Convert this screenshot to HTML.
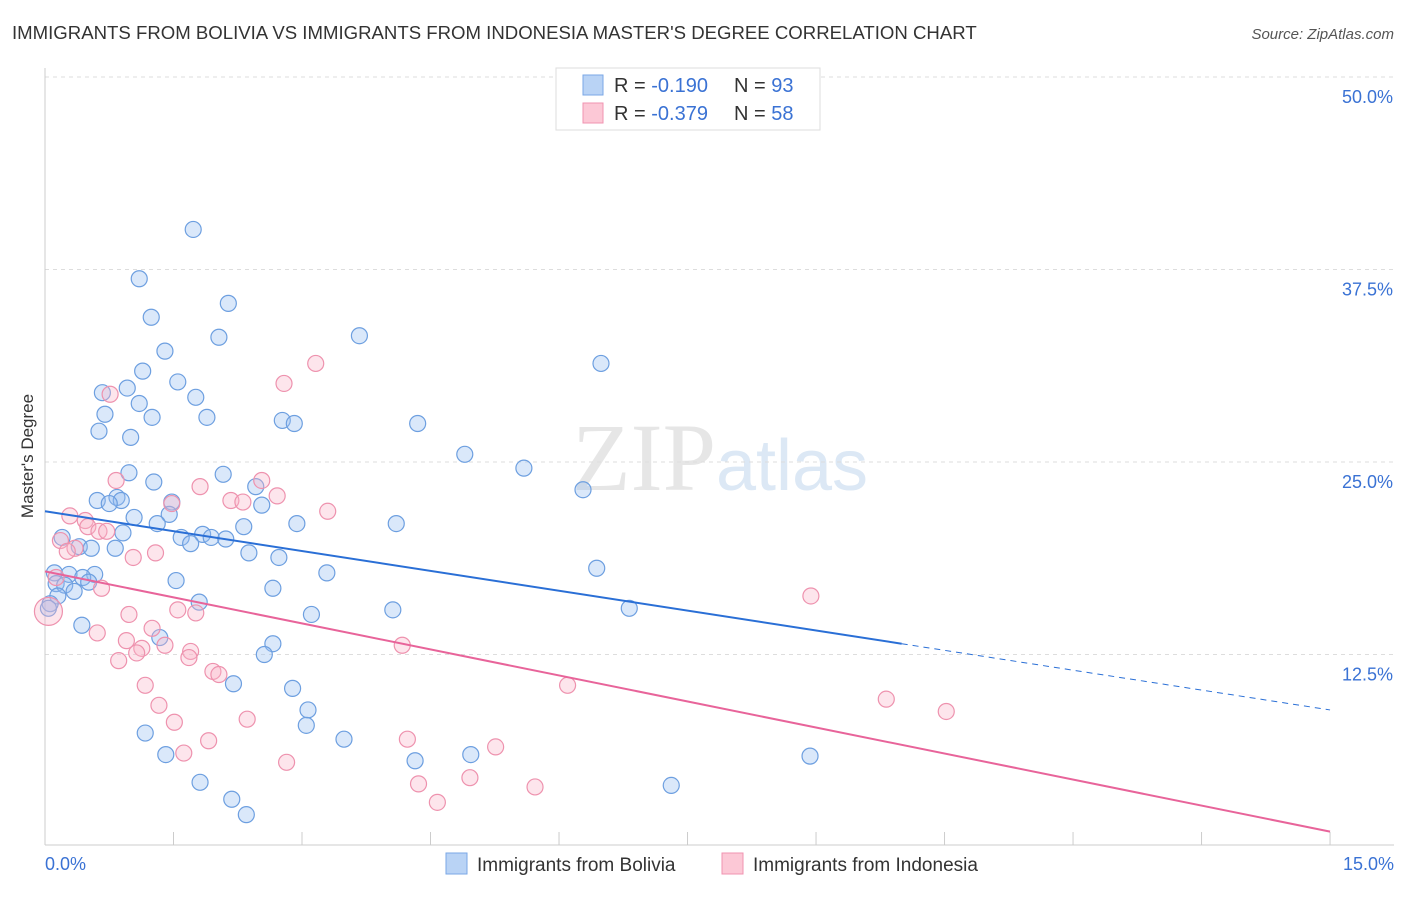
<!DOCTYPE html>
<html><head><meta charset="utf-8"><style>
body{margin:0;background:#fff;font-family:"Liberation Sans",sans-serif;}
</style></head><body>
<svg id="c" width="1406" height="892" xmlns="http://www.w3.org/2000/svg" style="font-family:'Liberation Sans',sans-serif">
<text x="12" y="39" font-size="18.6" fill="#333">IMMIGRANTS FROM BOLIVIA VS IMMIGRANTS FROM INDONESIA MASTER'S DEGREE CORRELATION CHART</text>
<text x="1394" y="39" font-size="15" fill="#555" font-style="italic" text-anchor="end">Source: ZipAtlas.com</text>
<text x="720" y="490" font-size="96" fill="#e6e6e6" text-anchor="middle" font-family="Liberation Serif">ZIP<tspan fill="#dce8f5" font-family="Liberation Sans" font-size="72">atlas</tspan></text>
<text transform="translate(33,456) rotate(-90)" font-size="17" fill="#333" text-anchor="middle">Master's Degree</text>
<g id="grid"></g><g id="pts"></g><g id="lines"></g>
<g>
<rect x="556" y="68" width="264" height="62" fill="#fff" stroke="#ddd"/>
<rect x="583" y="75" width="20" height="20" fill="#b9d3f5" stroke="#7aa7e6"/>
<rect x="583" y="103" width="20" height="20" fill="#fcc8d6" stroke="#f093b0"/>
<text x="614" y="92" font-size="20" fill="#333">R = <tspan fill="#3a72d4">-0.190</tspan><tspan x="734">N = </tspan><tspan fill="#3a72d4">93</tspan></text>
<text x="614" y="120" font-size="20" fill="#333">R = <tspan fill="#3a72d4">-0.379</tspan><tspan x="734">N = </tspan><tspan fill="#3a72d4">58</tspan></text>
</g>
<g>
<rect x="446" y="853" width="21" height="21" fill="#b9d3f5" stroke="#7aa7e6"/>
<text x="477" y="871" font-size="19" fill="#333">Immigrants from Bolivia</text>
<rect x="722" y="853" width="21" height="21" fill="#fcc8d6" stroke="#f093b0"/>
<text x="753" y="871" font-size="19" fill="#333">Immigrants from Indonesia</text>
</g>
</svg>
<script>
const yTicks=[12.5,25,37.5,50];
const yTickLabels=["12.5%","25.0%","37.5%","50.0%"];
const xTickLabels=["0.0%","15.0%"];
const blueX=[1.73,1.10,2.14,1.24,2.03,3.67,1.40,6.49,1.14,1.55,0.96,0.67,1.76,1.10,0.70,1.25,1.89,2.77,2.91,4.35,0.63,1.00,4.90,5.59,0.98,2.08,1.27,2.46,6.28,0.84,0.61,0.89,1.48,0.75,2.53,1.45,1.04,1.31,2.32,2.94,4.10,0.91,0.20,1.59,1.84,1.94,2.11,1.70,0.40,0.54,0.82,2.38,2.73,6.44,3.29,0.11,0.28,0.58,0.44,1.53,0.51,0.13,0.23,2.66,0.34,0.15,1.80,0.06,0.04,6.82,4.06,3.11,0.43,1.34,2.66,2.56,2.20,2.89,3.07,3.05,1.17,3.49,1.41,4.97,4.32,8.93,1.81,7.31,2.18,2.35];
const blueY=[40.1,36.9,35.3,34.4,33.1,33.2,32.2,31.4,30.9,30.2,29.8,29.5,29.2,28.8,28.1,27.9,27.9,27.7,27.5,27.5,27.0,26.6,25.5,24.6,24.3,24.2,23.7,23.4,23.2,22.7,22.5,22.5,22.4,22.3,22.2,21.6,21.4,21.0,20.8,21.0,21.0,20.4,20.1,20.1,20.3,20.1,20.0,19.7,19.5,19.4,19.4,19.1,18.8,18.1,17.8,17.8,17.7,17.7,17.5,17.3,17.2,17.1,17.0,16.8,16.6,16.3,15.9,15.8,15.5,15.5,15.4,15.1,14.4,13.6,13.2,12.5,10.6,10.3,8.9,7.9,7.4,7.0,6.0,6.0,5.6,5.9,4.2,4.0,3.1,2.1];
const pinkX=[3.16,2.79,0.76,2.53,0.83,1.81,2.71,2.17,2.31,1.48,3.30,0.29,0.47,0.50,0.63,0.72,0.18,0.35,0.26,1.29,1.03,0.13,0.66,8.94,1.55,1.76,0.98,1.25,0.61,0.95,1.40,1.13,4.17,1.70,1.07,1.68,0.86,1.96,2.03,1.17,6.10,9.82,10.52,1.33,2.36,1.51,1.91,4.23,5.26,1.62,2.82,4.36,4.96,5.72,4.58,0.04];
const pinkY=[31.4,30.1,29.4,23.8,23.8,23.4,22.8,22.5,22.4,22.3,21.8,21.5,21.2,20.8,20.5,20.5,19.9,19.4,19.2,19.1,18.8,17.5,16.8,16.3,15.4,15.2,15.1,14.2,13.9,13.4,13.1,12.9,13.1,12.7,12.6,12.3,12.1,11.4,11.2,10.5,10.5,9.6,8.8,9.2,8.3,8.1,6.9,7.0,6.5,6.1,5.5,4.1,4.5,3.9,2.9,15.3];
const blueTrend=[21.8,8.9], blueSolidEnd=10.0, pinkTrend=[17.9,1.0];
const X=v=>45+v*85.67, Y=v=>847-v*15.4;
const NS="http://www.w3.org/2000/svg";
function mk(p,t,a){const e=document.createElementNS(NS,t);for(const k in a)e.setAttribute(k,a[k]);p.appendChild(e);return e;}
const g=document.getElementById('grid');
yTicks.forEach((t,i)=>{
 const l=mk(g,'line',{x1:45,x2:1394,y1:Y(t),y2:Y(t),stroke:'#ddd','stroke-dasharray':'4,4'});
 
 
 const tx=mk(g,'text',{x:1393,y:Y(t)+26,'font-size':18,fill:'#3a72d4','text-anchor':'end'});tx.textContent=yTickLabels[i];
 
 
});
mk(g,'line',{x1:45,x2:45,y1:68,y2:845,stroke:'#ccc'});
mk(g,'line',{x1:45,x2:1394,y1:845,y2:845,stroke:'#ccc'});
for(let i=0;i<=10;i++){mk(g,'line',{x1:X(i*1.5),x2:X(i*1.5),y1:832,y2:845,stroke:'#ccc'});}
[[0,45,'start'],[15,1394,'end']].forEach((d,i)=>{const tx=mk(g,'text',{x:d[1],y:870,'font-size':18,fill:'#3a72d4','text-anchor':d[2]});tx.textContent=xTickLabels[i];
 
 });
const p=document.getElementById('pts');
blueX.forEach((x,i)=>{const c=mk(p,'circle',{cx:X(x),cy:Y(blueY[i]),r:8,fill:'rgba(150,190,240,0.35)',stroke:'#6d9fe0','stroke-width':1.2});
 
 });
pinkX.forEach((x,i)=>{const c=mk(p,'circle',{cx:X(x),cy:Y(pinkY[i]),r:i==pinkX.length-1?14:8,fill:'rgba(250,180,200,0.35)',stroke:'#ee92ae','stroke-width':1.2});
 
 });
const L=document.getElementById('lines');
const by=x=>blueTrend[0]+(blueTrend[1]-blueTrend[0])*x/15;
let a=mk(L,'line',{x1:X(0),y1:Y(by(0)),x2:X(blueSolidEnd),y2:Y(by(blueSolidEnd)),stroke:'#2a6fd6','stroke-width':2});


a=mk(L,'line',{x1:X(blueSolidEnd),y1:Y(by(blueSolidEnd)),x2:X(15),y2:Y(by(15)),stroke:'#2a6fd6','stroke-width':1,'stroke-dasharray':'6,5'});


a=mk(L,'line',{x1:X(0),y1:Y(pinkTrend[0]),x2:X(15),y2:Y(pinkTrend[1]),stroke:'#e8649a','stroke-width':2});


</script>
</body></html>
